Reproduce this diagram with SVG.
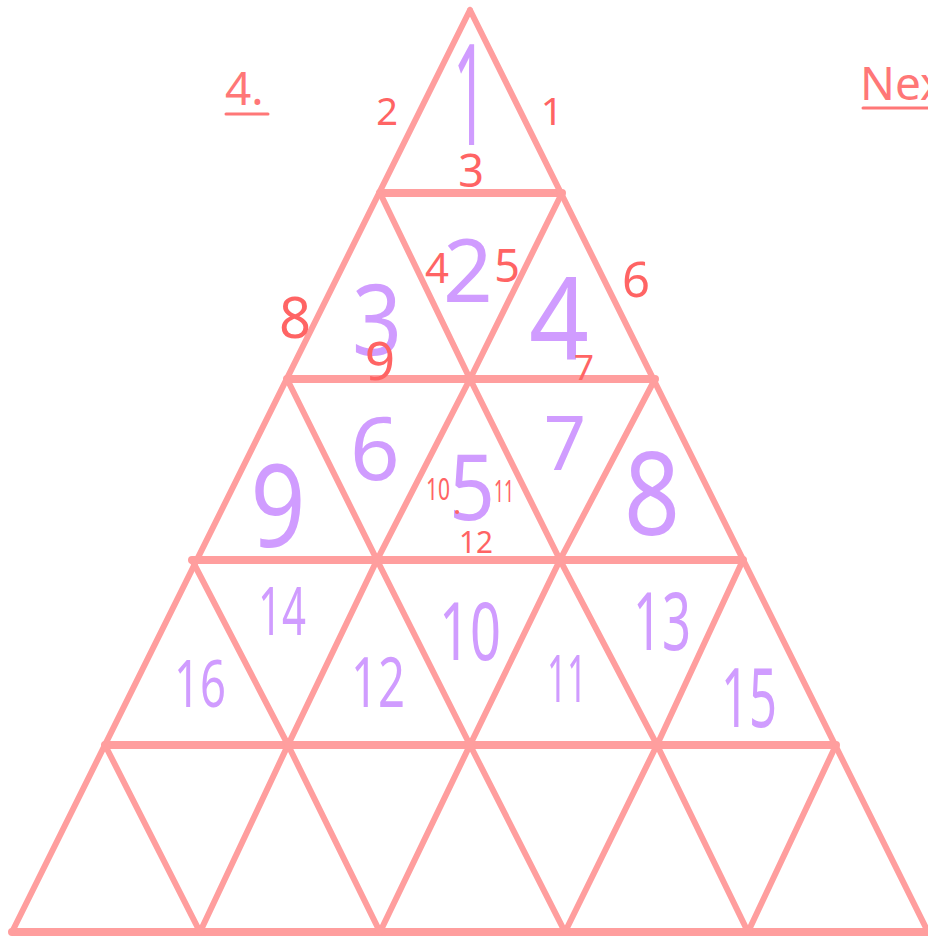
<svg xmlns="http://www.w3.org/2000/svg" width="928" height="936" viewBox="0 0 928 936">
<style>
.ln{stroke:#FF9E9E;stroke-width:6;stroke-linecap:round;fill:none}
.hz{stroke:#FF9E9E;stroke-width:8;stroke-linecap:round;fill:none}
.p{font-family:"Noto Sans",sans-serif;fill:#D09CFF;text-anchor:middle}
.r{font-family:"Noto Sans",sans-serif;fill:#FF6464;text-anchor:middle}
.t{font-family:"Noto Sans",sans-serif;fill:#FF7777}
.ul{stroke:#FF7777;stroke-width:3;stroke-linecap:round}
</style>
<rect width="928" height="936" fill="#FFFFFF"/>
<g id="connectors">
<path class="hz" d="M380 193H562M287 379H655M192 560H743M105 745H836M12 932H928"/>
<path class="ln" d="M470 10L12 932M470 10L928 932"/>
<path class="ln" d="M380 193L470 379L562 193M287 379L377 560L470 379L560 560L655 379M192 560L288 745L377 560L470 745L560 560L657 745L743 560M105 745L200 932L288 745L380 932L470 745L565 932L657 745L748 932L836 745"/>
</g>
<g id="heading">
<text class="t" x="225" y="105" font-size="46">4.</text>
<line class="ul" x1="226" y1="114" x2="268" y2="114"/>
<text class="t" x="860" y="100" font-size="46">Nex</text>
<line class="ul" x1="863" y1="108" x2="928" y2="108"/>
</g>
<g id="cells">
<text class="p" x="470" y="145" font-size="140" textLength="34" lengthAdjust="spacingAndGlyphs">1</text>
<text class="p" x="468" y="302" font-size="87">2</text>
<text class="p" x="377" y="355" font-size="98" textLength="50" lengthAdjust="spacingAndGlyphs">3</text>
<text class="p" x="559" y="360" font-size="115" textLength="60" lengthAdjust="spacingAndGlyphs">4</text>
<text class="p" x="472" y="520" font-size="91" textLength="46" lengthAdjust="spacingAndGlyphs">5</text>
<text class="p" x="375" y="480" font-size="87">6</text>
<text class="p" x="565" y="470" font-size="74">7</text>
<text class="p" x="652" y="535" font-size="115" textLength="56" lengthAdjust="spacingAndGlyphs">8</text>
<text class="p" x="278" y="547" font-size="115" textLength="55" lengthAdjust="spacingAndGlyphs">9</text>
<text class="p" x="470" y="660" font-size="81" textLength="62" lengthAdjust="spacingAndGlyphs">10</text>
<text class="p" x="567" y="702" font-size="66" textLength="40" lengthAdjust="spacingAndGlyphs">11</text>
<text class="p" x="378" y="707" font-size="69" textLength="54" lengthAdjust="spacingAndGlyphs">12</text>
<text class="p" x="662" y="650" font-size="81" textLength="58" lengthAdjust="spacingAndGlyphs">13</text>
<text class="p" x="282" y="635" font-size="67" textLength="48" lengthAdjust="spacingAndGlyphs">14</text>
<text class="p" x="749" y="727" font-size="83" textLength="56" lengthAdjust="spacingAndGlyphs">15</text>
<text class="p" x="200" y="707" font-size="66" textLength="52" lengthAdjust="spacingAndGlyphs">16</text>
</g>
<g id="edge-labels">
<text class="r" x="387" y="125" font-size="38">2</text>
<text class="r" x="552" y="125" font-size="39">1</text>
<text class="r" x="471" y="187" font-size="45">3</text>
<text class="r" x="437" y="283" font-size="42">4</text>
<text class="r" x="507" y="282" font-size="45">5</text>
<text class="r" x="636" y="297" font-size="49">6</text>
<text class="r" x="295" y="338" font-size="56">8</text>
<text class="r" x="380" y="380" font-size="53">9</text>
<text class="r" x="584" y="380" font-size="35">7</text>
<text class="r" x="438" y="500" font-size="31" textLength="24" lengthAdjust="spacingAndGlyphs">10</text>
<text class="r" x="504" y="502" font-size="31" textLength="20" lengthAdjust="spacingAndGlyphs">11</text>
<text class="r" x="476" y="553" font-size="30" textLength="34" lengthAdjust="spacingAndGlyphs">12</text>
<circle cx="457" cy="512" r="2" fill="#FF6464"/>
</g>
</svg>
